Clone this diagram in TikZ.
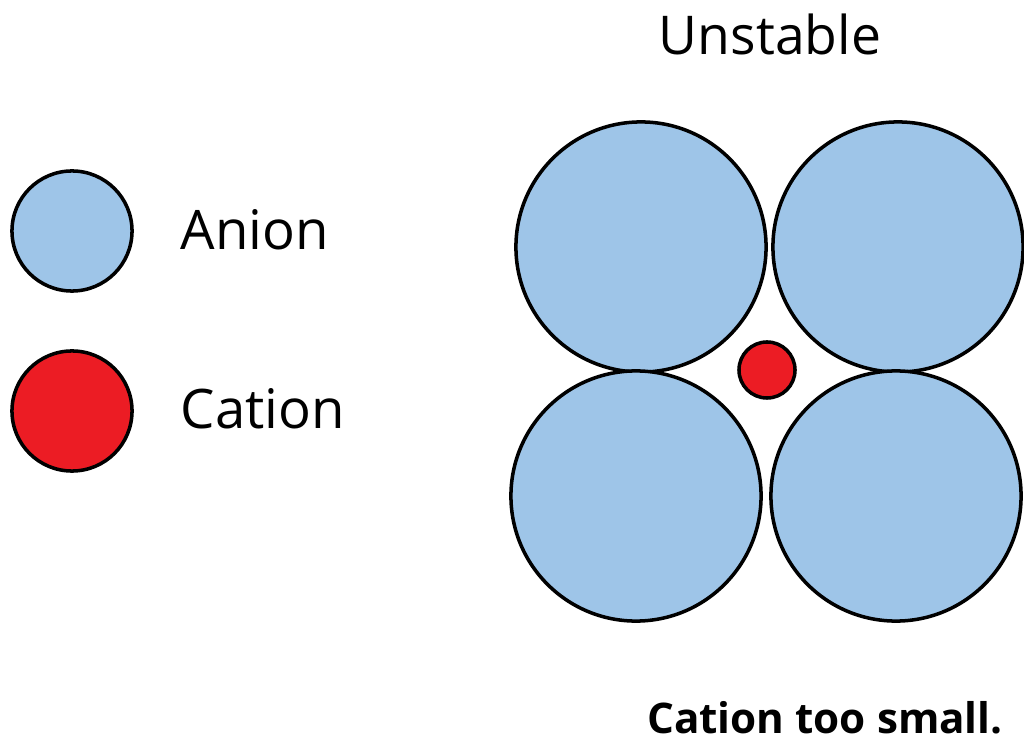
\documentclass[tikz,border=0pt]{standalone}
\usepackage{fontspec}
\setmainfont{Open Sans}
\usepackage{xcolor}
\usetikzlibrary{positioning}

\definecolor{anionblue}{RGB}{158,197,232}
\definecolor{cationred}{RGB}{236,28,36}

\begin{document}
\begin{tikzpicture}[x=0.01cm, y=-0.01cm,
  anion/.style={circle, draw=black, fill=anionblue, line width=1pt,
                inner sep=0pt, minimum size=2.5cm},
  cation/.style={circle, draw=black, fill=cationred, line width=1pt,
                 inner sep=0pt, minimum size=1.2cm},
  ion/.style={circle, draw=black, fill=cationred, line width=1pt,
              inner sep=0pt, minimum size=0.56cm},
  legendtext/.style={font=\fontsize{15.5}{18}\selectfont, inner sep=0pt,
                     anchor=base west},
  title/.style={font=\fontsize{15.2}{18}\selectfont, inner sep=0pt, anchor=base},
  verdict/.style={font=\fontsize{12}{14}\selectfont\bfseries, inner sep=0pt,
                  anchor=base},
]
  % Frame
  \useasboundingbox (0,0) rectangle (1024,740);

  % Legend
  \node[anion, minimum size=1.2cm] (keyanion) at (72,231) {};
  \node[legendtext] (anionlbl) at (180,250) {Anion};
  \node[cation] (keycation) at (72,411) {};
  \node[legendtext] (cationlbl) at (180,429) {Cation};

  % Title
  \node[title] (unstable) at (770,55) {Unstable};

  % Four anions around the small cation
  \node[anion] (tl) at (641,247) {};
  \node[anion] (tr) at (898,247) {};
  \node[anion] (bl) at (636,496) {};
  \node[anion] (br) at (896,496) {};
  \node[ion] (mid) at (767,370) {};

  % Caption
  \node[verdict] (note) at (825,733) {Cation too small.};

\end{tikzpicture}
\end{document}
